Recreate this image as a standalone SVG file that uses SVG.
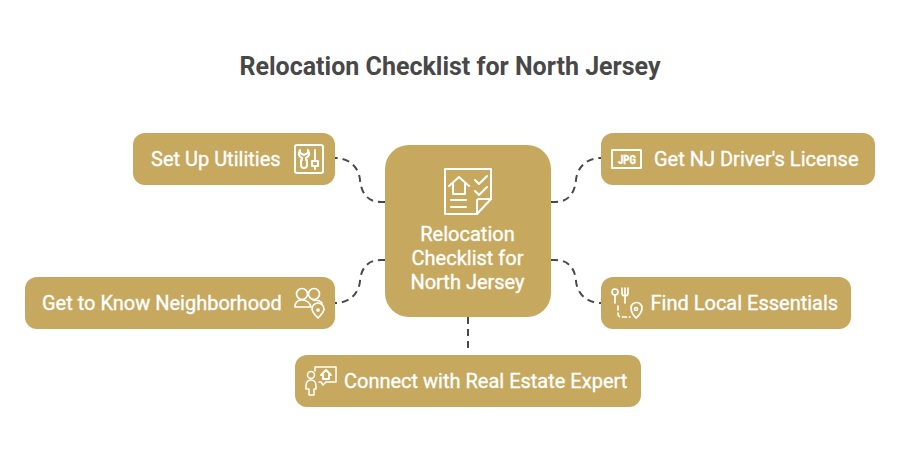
<svg xmlns="http://www.w3.org/2000/svg" width="900" height="456" viewBox="0 0 900 456">
<style>
text{font-family:Roboto,"Liberation Sans",sans-serif;font-weight:400;fill:#fff;font-size:20px;stroke:#fff;stroke-width:.35px}
.t{fill:#484848;stroke:none;font-size:25px;font-weight:700;text-anchor:middle}
.b{fill:#c6a85f}
.c{fill:none;stroke:#484848;stroke-width:2;stroke-dasharray:7 5}
.i{fill:none;stroke:#fff;stroke-width:2;stroke-linecap:round;stroke-linejoin:round}
.m{text-anchor:middle}
</style>
<rect width="900" height="456" fill="#fff"/>
<text class="t" x="450" y="75">Relocation Checklist for North Jersey</text>
<g id="connectors">
<path class="c" d="M385 202H381C366 202 361 191 360 180C359 168 350 158 335 158"/>
<path class="c" d="M551 202H555C570 202 575 191 576 180C577 168 586 158 601 158"/>
<path class="c" d="M385 260H381C366 260 361 270 360 281C359 293 350 303 335 303"/>
<path class="c" d="M551 260H555C570 260 575 270 576 281C577 293 586 303 601 303"/>
<path class="c" d="M468 317V348"/>
</g>
<g id="center">
<rect class="b" x="385" y="145" width="166" height="172" rx="24"/>
<g class="i">
<path d="M445 169H491V199L477 214H445Z"/>
<path d="M491 199H479Q477 199 477 201V214"/>
<path d="M449 186L459 177L469 186M453 183V194H465V183"/>
<path d="M475 180L479 184L487 176M475 191L479 195L487 187"/>
<path d="M451 200H466M451 207H466"/>
</g>
<text class="m" x="467.500" y="241">Relocation</text>
<text class="m" x="467.500" y="265">Checklist for</text>
<text class="m" x="467.500" y="289">North Jersey</text>
</g>
<g id="utilities">
<rect class="b" x="133" y="133" width="202" height="52" rx="12"/>
<text x="151" y="166">Set Up Utilities</text>
<g class="i">
<rect x="295" y="145" width="28" height="28" rx="2"/>
<path d="M300 150Q297 156 302 158V160H301V165Q301 168 304 168Q307 168 307 165V160H306V158Q311 156 308 150V153L304 155L300 153Z"/>
<path d="M315 150V160M312 161H318V166H312ZM315 166V169"/>
</g>
</g>
<g id="license">
<rect class="b" x="601" y="133" width="274" height="52" rx="12"/>
<text x="654" y="166">Get NJ Driver's License</text>
<rect class="i" x="612" y="150" width="29" height="18" stroke-linecap="butt" stroke-linejoin="miter"/>
<text x="627" y="163.500" class="m" style="font-size:12.500px;font-weight:800" textLength="18" lengthAdjust="spacingAndGlyphs">JPG</text>
</g>
<g id="neighborhood">
<rect class="b" x="25" y="277" width="310" height="52" rx="12"/>
<text x="42" y="310">Get to Know Neighborhood</text>
<g class="i" style="stroke-width:1.700">
<circle cx="302" cy="294" r="5.500"/><circle cx="314" cy="294" r="5.500"/>
<path d="M295 307Q295 300 302 300Q309 300 311 307ZM313 300Q320 300 322 303"/>
<path d="M318 318Q312 312 312 309A6 6 0 0 1 324 309Q324 312 318 318Z"/>
<circle cx="318" cy="310" r="1"/>
</g>
</g>
<g id="essentials">
<rect class="b" x="601" y="277" width="250" height="52" rx="12"/>
<text x="650.500" y="310">Find Local Essentials</text>
<g class="i" style="stroke-width:1.700">
<circle cx="615" cy="292" r="3"/>
<path d="M615 295V303M622 288V293Q622 296 625 296Q628 296 628 293V288M625 288V303"/>
<path d="M618 306V313Q618 317 621 317H630" stroke-dasharray="4 3"/>
<path d="M636 318Q631 313 631 308A5.500 5.500 0 0 1 642 308Q642 313 636 318Z"/>
<circle cx="636" cy="309" r="1.500"/>
</g>
</g>
<g id="expert">
<rect class="b" x="295" y="355" width="346" height="52" rx="12"/>
<text x="344" y="388">Connect with Real Estate Expert</text>
<g class="i" style="stroke-width:1.500">
<circle cx="311" cy="375" r="3.500"/>
<path d="M306 386Q306 380 311 380Q316 380 316 386V389H314V395H309V389H306Z"/>
<path d="M315 371V367H336V382H326L323 385L321 382H319"/>
<path d="M321 375L326 370L331 375M323 374V379H329V374" style="stroke-width:1.800"/>
</g>
</g>
</svg>
